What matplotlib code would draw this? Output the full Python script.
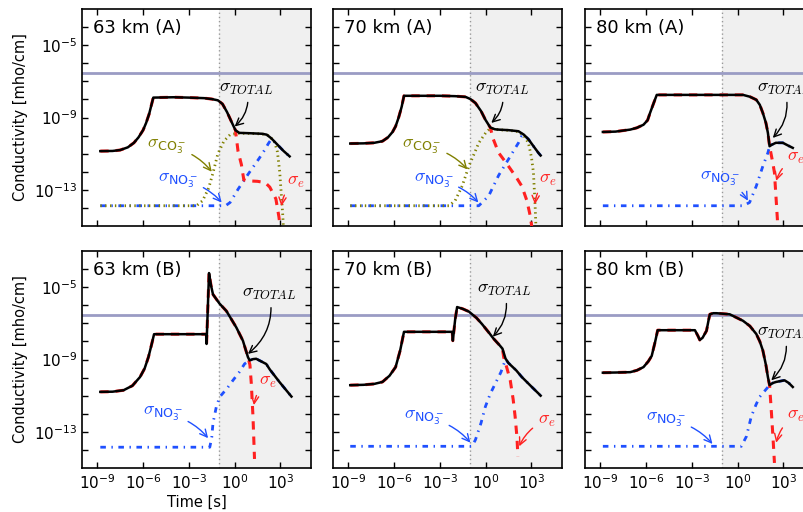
import numpy as np
import matplotlib.pyplot as plt
from matplotlib.ticker import FixedLocator, NullFormatter, LogFormatterSciNotation

plt.rcParams['mathtext.fontset'] = 'cm'
plt.rcParams['lines.scale_dashes'] = False
plt.rcParams['font.family'] = 'DejaVu Sans'

# --- data: (log10 time [s], log10 conductivity [mho/cm]) ---
# 63 km (A)
tot_63a = [(-8.8, -10.86), (-8, -10.85), (-7.5, -10.8), (-7, -10.65), (-6.6, -10.4), (-6.3, -10.1),
           (-6, -9.7), (-5.8, -9.3), (-5.6, -8.8), (-5.45, -8.3), (-5.33, -7.9), (-4, -7.88), (-3, -7.9),
           (-2, -7.93), (-1.5, -7.98), (-1.1, -8.05), (-0.8, -8.25), (-0.5, -8.7), (-0.2, -9.25),
           (0.05, -9.7), (0.3, -9.85), (1.0, -9.87), (1.8, -9.9), (2.1, -9.95), (2.4, -10.15),
           (2.8, -10.5), (3.2, -10.85), (3.6, -11.15)]
e_63a = tot_63a[:20] + [(0.22, -10.86), (0.44, -11.6), (0.6, -12.45), (0.8, -12.5), (1.5, -12.53),
                        (2.0, -12.6), (2.3, -12.85), (2.7, -13.5), (2.9, -14.5), (3.0, -15.2)]
co3_63a = [(-8.8, -13.88), (-2.5, -13.88), (-2.1, -13.6), (-1.7, -12.9), (-1.4, -12.0), (-1.1, -11.0),
           (-0.7, -10.3), (-0.3, -9.95), (0.2, -9.87), (1.0, -9.88), (1.8, -9.91), (2.2, -10.0),
           (2.6, -10.3), (2.8, -10.9), (2.95, -12.0), (3.05, -13.2), (3.15, -14.4), (3.2, -15.2)]
no3_63a = [(-8.8, -13.88), (-0.6, -13.88), (-0.3, -13.7), (0.22, -12.97), (0.87, -12.15), (1.63, -11.23),
           (2.0, -10.75), (2.2, -10.45), (2.4, -10.2), (2.8, -10.5), (3.2, -10.85), (3.6, -11.15)]

# 70 km (A)
tot_70a = [(-8.87, -10.44), (-8, -10.43), (-7.3, -10.4), (-6.76, -10.31), (-6.4, -10.1), (-6.1, -9.8),
           (-5.9, -9.49), (-5.7, -9.0), (-5.5, -8.4), (-5.35, -7.8), (-3, -7.8), (-2, -7.82),
           (-1.32, -7.86), (-1.0, -7.98), (-0.67, -8.2), (-0.3, -8.65), (-0.02, -9.12), (0.3, -9.55),
           (0.6, -9.65), (0.85, -9.67), (1.5, -9.7), (2.15, -9.76), (2.5, -9.95), (2.8, -10.2),
           (3.1, -10.55), (3.45, -10.95), (3.6, -11.1)]
e_70a = tot_70a[:18] + [(0.5, -10.2), (0.85, -10.95), (1.2, -11.35), (1.5, -11.7), (2.0, -12.3),
                        (2.37, -12.8), (2.7, -13.6), (2.91, -14.4), (3.05, -15.2)]
co3_70a = [(-8.87, -13.88), (-2.4, -13.88), (-2.0, -13.6), (-1.54, -12.79), (-1.1, -11.69), (-0.7, -10.9),
           (-0.45, -10.4), (0.0, -9.85), (0.3, -9.6), (0.85, -9.68), (1.5, -9.71), (2.15, -9.78),
           (2.5, -10.0), (2.8, -10.4), (3.0, -11.2), (3.13, -12.05), (3.24, -13.9), (3.3, -15.2)]
no3_70a = [(-8.87, -13.88), (-0.45, -13.88), (0.2, -13.33), (0.85, -12.2), (1.5, -11.3), (2.15, -10.4),
           (2.35, -10.04), (2.5, -9.97), (2.8, -10.2), (3.1, -10.55), (3.45, -10.95), (3.6, -11.1)]

# 80 km (A)
tot_80a = [(-8.83, -9.8), (-8, -9.78), (-7.04, -9.67), (-6.6, -9.57), (-6.17, -9.4), (-5.9, -9.15),
           (-5.74, -8.75), (-5.5, -8.2), (-5.3, -7.75), (-2, -7.75), (0.35, -7.75), (0.8, -7.85),
           (1.22, -8.02), (1.45, -8.3), (1.65, -8.75), (1.85, -9.3), (1.98, -9.85), (2.09, -10.59),
           (2.25, -10.5), (2.5, -10.4), (2.96, -10.4), (3.3, -10.55), (3.61, -10.68)]
e_80a = tot_80a[:18] + [(2.3, -11.5), (2.41, -12.05), (2.52, -13.52), (2.6, -14.6), (2.63, -15.2)]
no3_80a = [(-8.83, -13.88), (0.35, -13.88), (0.78, -13.7), (1.22, -12.79), (1.65, -11.69), (1.98, -10.95),
           (2.09, -10.6), (2.25, -10.5), (2.5, -10.4), (2.96, -10.4), (3.3, -10.55), (3.61, -10.68)]

# 63 km (B)
tot_63b = [(-8.8, -10.79), (-8, -10.78), (-7.28, -10.7), (-6.7, -10.45), (-6.2, -9.97), (-5.9, -9.5),
           (-5.65, -8.87), (-5.45, -8.2), (-5.28, -7.6), (-3, -7.6), (-1.85, -7.6), (-1.84, -8.14),
           (-1.68, -4.22), (-1.55, -4.9), (-1.42, -5.4), (-1.0, -5.9), (-0.54, -6.32), (0.11, -7.23),
           (0.54, -7.96), (0.87, -8.87), (0.98, -9.05), (1.2, -8.98), (1.41, -8.96), (2.07, -9.25),
           (2.3, -9.55), (2.94, -10.25), (3.72, -11.05)]
e_63b = tot_63b[:20] + [(1.0, -9.3), (1.09, -10.33), (1.2, -12.16), (1.3, -14.5)]
no3_63b = [(-8.8, -13.85), (-1.63, -13.85), (-1.5, -13.3), (-1.42, -12.52), (-1.2, -11.61), (-0.98, -11.07),
           (-0.5, -10.6), (-0.11, -10.15), (0.3, -9.7), (0.65, -9.24), (0.98, -9.05), (1.2, -8.98),
           (1.41, -8.96), (2.07, -9.25), (2.3, -9.55), (2.94, -10.25), (3.72, -11.05)]

# 70 km (B)
tot_70b = [(-8.87, -10.42), (-8, -10.4), (-7.3, -10.35), (-6.76, -10.24), (-6.3, -9.9), (-5.9, -9.42),
           (-5.6, -8.5), (-5.35, -7.47), (-2.19, -7.47), (-2.15, -7.96), (-2.0, -6.8), (-1.87, -6.1),
           (-1.5, -6.2), (-1.1, -6.35), (-0.6, -6.7), (-0.24, -7.04), (0.2, -7.5), (0.52, -7.85),
           (0.9, -8.2), (1.1, -8.4), (1.3, -8.95), (1.5, -9.2), (2.0, -9.6), (2.37, -9.97),
           (3.0, -10.5), (3.46, -10.88), (3.6, -11.0)]
e_70b = tot_70b[:20] + [(1.18, -8.87), (1.4, -9.5), (1.61, -10.15), (1.8, -11.2), (1.93, -12.16),
                        (2.05, -13.3), (2.11, -14.35)]
no3_70b = [(-8.87, -13.8), (-0.89, -13.8), (-0.67, -13.44), (-0.3, -12.5), (-0.02, -11.61), (0.3, -10.9),
           (0.63, -10.33), (1.0, -9.7), (1.3, -9.0), (1.5, -9.2), (2.0, -9.6), (2.37, -9.97),
           (3.0, -10.5), (3.46, -10.88), (3.6, -11.0)]

# 80 km (B)
tot_80b = [(-8.83, -9.73), (-8, -9.72), (-7.04, -9.7), (-6.6, -9.6), (-6.17, -9.42), (-5.85, -9.1),
           (-5.63, -8.8), (-5.4, -8.0), (-5.24, -7.38), (-2.8, -7.38), (-2.6, -7.7), (-2.48, -7.92),
           (-2.3, -7.8), (-2.04, -7.41), (-1.9, -6.8), (-1.82, -6.5), (-1.6, -6.44), (-1.39, -6.44),
           (-0.52, -6.5), (0.35, -6.86), (0.8, -7.15), (1.22, -7.59), (1.45, -8.0), (1.65, -8.5),
           (1.85, -9.3), (1.98, -9.97), (2.09, -10.42), (2.3, -10.3), (2.52, -10.24), (3.07, -10.15),
           (3.35, -10.3), (3.61, -10.52)]
e_80b = tot_80b[:27] + [(2.2, -11.79), (2.31, -13.26), (2.41, -14.72)]
no3_80b = [(-8.83, -13.8), (0.24, -13.8), (0.57, -13.26), (0.89, -12.16), (1.2, -11.5), (1.44, -11.07),
           (1.91, -10.6), (2.09, -10.42), (2.3, -10.3), (2.52, -10.24), (3.07, -10.15), (3.35, -10.3),
           (3.61, -10.52)]

titles = ['63 km (A)', '70 km (A)', '80 km (A)', '63 km (B)', '70 km (B)', '80 km (B)']
totals = [tot_63a, tot_70a, tot_80a, tot_63b, tot_70b, tot_80b]
electrons = [e_63a, e_70a, e_80a, e_63b, e_70b, e_80b]
nitrates = [no3_63a, no3_70a, no3_80a, no3_63b, no3_70b, no3_80b]
carbonates = [co3_63a, co3_70a, None, None, None, None]

# annotations: (species, text centre, arrow tip, curvature) in log10 units
ann_63a = [('tot', (0.78, -7.36), (0.0, -9.5), -0.3), ('co3', (-4.43, -10.6), (-1.5, -12.0), -0.2),
           ('no3', (-3.7, -12.47), (-0.85, -13.7), -0.2), ('e', (3.98, -12.5), (3.06, -13.9), 0.2)]
ann_70a = [('tot', (1.05, -7.36), (0.37, -9.3), -0.3), ('co3', (-4.17, -10.6), (-1.2, -11.87), -0.2),
           ('no3', (-3.42, -12.47), (-0.48, -13.7), -0.2), ('e', (4.05, -12.4), (3.23, -13.8), 0.2)]
ann_80a = [('tot', (3.04, -7.36), (2.3, -10.13), -0.3), ('e', (3.8, -11.2), (2.52, -12.5), 0.2),
           ('no3', (-1.17, -12.36), (0.67, -13.6), -0.2)]
ann_63b = [('tot', (2.28, -5.33), (0.87, -8.69), -0.3), ('e', (2.15, -10.2), (1.26, -11.52), 0.2),
           ('no3', (-4.7, -12.0), (-1.74, -13.35), -0.2)]
ann_70b = [('tot', (1.18, -5.1), (0.47, -7.74), -0.3), ('no3', (-4.04, -12.23), (-1.0, -13.6), -0.2),
           ('e', (3.98, -12.34), (2.2, -13.8), 0.2)]
ann_80b = [('tot', (3.04, -7.47), (2.2, -10.15), -0.3), ('e', (3.8, -12.07), (2.52, -13.6), 0.2),
           ('no3', (-4.69, -12.34), (-1.65, -13.67), -0.2)]
annotations = [ann_63a, ann_70a, ann_80a, ann_63b, ann_70b, ann_80b]

labels = {'tot': r'$\sigma_{TOTAL}$', 'e': r'$\sigma_e$',
          'co3': r'$\sigma_{\mathdefault{CO_3^-}}$', 'no3': r'$\sigma_{\mathdefault{NO_3^-}}$'}
colors = {'tot': 'black', 'e': '#ff2020', 'co3': '#808000', 'no3': '#1f50ff'}

threshold = 3e-7      # horizontal reference level
t_switch = 0.1        # start of shaded interval
xlim = (1e-10, 1e5)
ylim = (1e-15, 1e-3)

# --- layout (pixels of an 804x512 figure) ---
W, H = 804, 512
col_left = [82, 333, 585]
row_top = [9, 251]
ax_w, ax_h = 229, 217

fig = plt.figure(figsize=(W / 100, H / 100), dpi=100)


def xy(series):
    arr = np.array(series)
    return 10 ** arr[:, 0], 10 ** arr[:, 1]


for i in range(6):
    r, c = divmod(i, 3)
    ax = fig.add_axes([col_left[c] / W, 1 - (row_top[r] + ax_h) / H, ax_w / W, ax_h / H])
    ax.set_xscale('log')
    ax.set_yscale('log')

    ax.axvspan(t_switch, xlim[1], color='#f0f0f0', lw=0, zorder=0)
    ax.axvline(t_switch, color='#999999', lw=1, ls=(0, (1, 2)), zorder=1)
    ax.axhline(threshold, color='#9a9cc4', lw=2, zorder=1)

    t, s = xy(nitrates[i])
    ax.plot(t, s, color=colors['no3'], lw=2, ls=(0, (4, 4, 1, 4)), zorder=2)
    if carbonates[i] is not None:
        t, s = xy(carbonates[i])
        ax.plot(t, s, color=colors['co3'], lw=2, ls=(0, (1, 2.5)), zorder=2)
    t, s = xy(electrons[i])
    ax.plot(t, s, color=colors['e'], lw=2.2, ls=(0, (6, 5)), zorder=3)
    t, s = xy(totals[i])
    ax.plot(t, s, color='black', lw=1.8, zorder=4)

    for key, txt, tip, rad in annotations[i]:
        ax.annotate(labels[key], xy=(10 ** tip[0], 10 ** tip[1]), xytext=(10 ** txt[0], 10 ** txt[1]),
                    ha='center', va='center', fontsize=13, color=colors[key], zorder=5,
                    arrowprops=dict(arrowstyle='->', color=colors[key], lw=1,
                                    connectionstyle=f'arc3,rad={rad}', shrinkA=2, shrinkB=0))

    ax.set_xlim(xlim)
    ax.set_ylim(ylim)
    ax.xaxis.set_major_locator(FixedLocator([1e-9, 1e-6, 1e-3, 1e0, 1e3]))
    ax.xaxis.set_minor_locator(FixedLocator([]))
    ax.yaxis.set_major_locator(FixedLocator([1e-5, 1e-9, 1e-13]))
    ax.yaxis.set_minor_locator(FixedLocator([10.0 ** k for k in range(-14, -3)]))
    ax.yaxis.set_minor_formatter(NullFormatter())
    ax.tick_params(which='both', direction='in', top=True, right=True, length=4, width=1,
                   labelsize=11)
    for sp in ax.spines.values():
        sp.set_linewidth(1.2)

    if c == 0:
        ax.set_ylabel('Conductivity [mho/cm]', fontsize=10.5)
    else:
        ax.yaxis.set_major_formatter(NullFormatter())
    if r == 0:
        ax.xaxis.set_major_formatter(NullFormatter())
    if i == 3:
        ax.set_xlabel('Time [s]', fontsize=10.5, labelpad=2)

    ax.text(0.05, 0.955, titles[i], transform=ax.transAxes, fontsize=13, va='top', ha='left')

fig.savefig('out.png', dpi=100)
